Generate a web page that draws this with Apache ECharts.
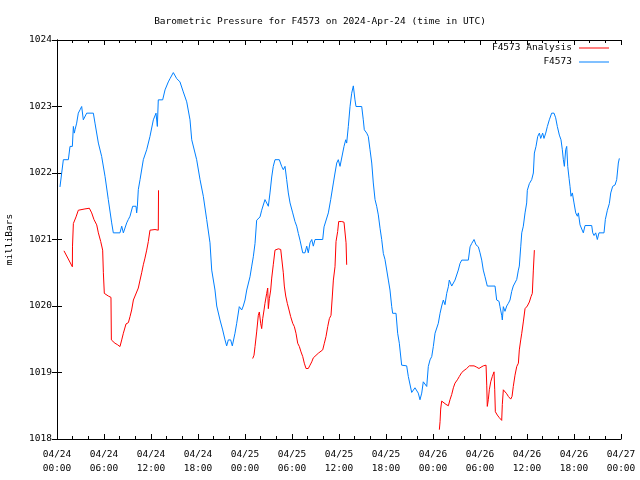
<!DOCTYPE html>
<html>
<head>
<meta charset="utf-8">
<script src="https://cdn.jsdelivr.net/npm/echarts@6/dist/echarts.min.js"></script>
<style>html,body{margin:0;padding:0;background:#fff}#c{width:640px;height:480px}</style>
</head>
<body>
<div id="c"></div>
<script>
// hours since 04/24 00:00 UTC
var tickLabels = ['04/24\n00:00','04/24\n06:00','04/24\n12:00','04/24\n18:00','04/25\n00:00','04/25\n06:00','04/25\n12:00','04/25\n18:00','04/26\n00:00','04/26\n06:00','04/26\n12:00','04/26\n18:00','04/27\n00:00'];

var pressureHours = [0.38,0.6,0.81,1.45,1.66,1.96,2.09,2.21,2.3,2.51,2.72,2.94,3.15,3.36,3.57,3.79,4.64,4.85,5.28,5.7,6.13,6.55,6.98,7.19,8.04,8.26,8.47,8.9,9.1,9.32,9.66,10.09,10.17,10.26,10.38,10.6,11.02,11.45,11.87,12.3,12.64,12.81,12.93,13.49,13.79,14.21,14.43,14.85,15.28,15.7,16.12,16.56,16.98,17.2,17.4,17.83,18.26,18.68,19.11,19.53,19.75,20.17,20.39,20.81,21.15,21.45,21.66,21.87,22.17,22.38,22.72,22.94,23.27,23.58,23.78,24.0,24.22,24.64,24.86,25.06,25.28,25.49,25.92,26.13,26.55,26.98,27.19,27.41,27.61,27.83,28.38,28.68,28.89,29.11,29.32,29.53,29.75,30.09,30.38,30.6,30.81,31.02,31.37,31.66,31.88,32.08,32.3,32.52,32.72,32.94,33.92,34.09,34.34,34.64,34.94,35.28,35.49,35.71,35.91,36.13,36.35,36.64,36.86,36.98,37.19,37.41,37.62,37.83,38.04,38.17,38.9,39.1,39.23,39.54,39.74,39.96,40.18,40.38,40.6,40.81,41.02,41.24,41.45,41.66,41.87,42.09,42.3,42.51,42.73,42.85,43.28,43.49,43.7,44.0,44.64,44.85,45.28,45.7,46.12,46.34,46.56,46.76,46.98,47.2,47.4,47.62,47.84,48.04,48.26,48.47,48.68,48.9,49.11,49.32,49.53,49.75,49.96,50.08,50.39,50.6,50.81,51.03,51.23,51.45,51.67,52.51,52.73,52.94,53.24,53.49,53.79,54.0,54.22,54.42,54.64,54.93,55.92,56.13,56.43,56.55,56.77,56.85,56.98,57.19,57.41,57.62,57.83,58.05,58.25,58.47,58.69,58.9,59.02,59.2,59.33,59.53,59.75,59.96,60.04,60.3,60.6,60.81,60.94,61.15,61.37,61.58,61.75,62.0,62.17,62.39,62.6,62.85,63.15,63.45,63.66,63.87,64.13,64.34,64.51,64.64,64.77,64.94,65.07,65.2,65.37,65.49,65.62,65.79,66.0,66.22,66.43,66.56,66.77,66.98,67.19,67.41,68.26,68.39,68.56,68.77,68.98,69.19,69.83,70.0,70.26,70.51,70.69,70.94,71.24,71.45,71.66,71.79];
var pressureValues = [1021.79,1022.0,1022.2,1022.2,1022.4,1022.4,1022.7,1022.6,1022.65,1022.75,1022.9,1022.95,1023.0,1022.8,1022.8,1022.9,1022.9,1022.75,1022.45,1022.25,1021.95,1021.6,1021.25,1021.1,1021.1,1021.2,1021.1,1021.25,1021.3,1021.35,1021.5,1021.5,1021.4,1021.5,1021.75,1021.9,1022.2,1022.35,1022.55,1022.8,1022.9,1022.7,1023.1,1023.1,1023.25,1023.37,1023.42,1023.51,1023.42,1023.37,1023.22,1023.07,1022.8,1022.5,1022.5,1022.2,1021.9,1021.65,1021.3,1020.95,1020.54,1020.24,1020.0,1019.79,1019.64,1019.49,1019.4,1019.49,1019.49,1019.4,1019.59,1019.74,1019.99,1019.94,1020.0,1020.09,1020.24,1020.44,1020.6,1020.74,1020.94,1021.29,1021.34,1021.44,1021.6,1021.5,1021.7,1021.94,1022.1,1022.2,1022.2,1022.1,1022.05,1022.1,1021.9,1021.7,1021.55,1021.4,1021.27,1021.2,1021.09,1020.99,1020.8,1020.8,1020.9,1020.8,1020.95,1021.0,1020.9,1021.0,1021.0,1021.19,1021.2,1021.4,1021.6,1021.85,1022.0,1022.15,1022.2,1022.1,1022.1,1022.4,1022.5,1022.45,1022.7,1023.0,1023.2,1023.31,1023.1,1023.0,1023.0,1022.8,1022.65,1022.6,1022.55,1022.35,1022.15,1021.85,1021.6,1021.5,1021.37,1021.17,1021.0,1020.79,1020.7,1020.7,1020.39,1020.24,1019.99,1019.89,1019.89,1019.59,1019.44,1019.11,1019.1,1018.94,1018.7,1018.77,1018.69,1018.59,1018.69,1018.86,1018.89,1018.79,1019.09,1019.19,1019.24,1019.39,1019.59,1019.6,1019.74,1019.89,1020.0,1020.09,1020.02,1020.19,1020.29,1020.39,1020.3,1020.3,1020.39,1020.4,1020.54,1020.64,1020.69,1020.69,1020.89,1020.94,1021.0,1020.92,1020.89,1020.8,1020.69,1020.54,1020.44,1020.3,1020.3,1020.09,1020.07,1019.99,1019.86,1019.79,1019.99,1019.92,1020.0,1020.04,1020.09,1020.22,1020.3,1020.32,1020.4,1020.54,1020.6,1020.89,1021.1,1021.2,1021.4,1021.55,1021.74,1021.84,1021.9,1022.0,1022.3,1022.4,1022.55,1022.6,1022.52,1022.6,1022.52,1022.6,1022.7,1022.8,1022.9,1022.9,1022.83,1022.7,1022.57,1022.5,1022.35,1022.2,1022.1,1022.35,1022.4,1022.1,1021.92,1021.8,1021.65,1021.7,1021.55,1021.4,1021.35,1021.4,1021.22,1021.2,1021.1,1021.21,1021.21,1021.1,1021.06,1021.1,1021.0,1021.1,1021.1,1021.3,1021.44,1021.54,1021.7,1021.8,1021.82,1021.9,1022.15,1022.22];

// null marks a gap in the analysis record
var analysisHours = [0.89,1.96,1.98,2.09,2.43,2.72,2.94,3.57,3.79,4.13,4.43,4.72,5.07,5.28,5.58,5.83,5.92,6.04,6.55,6.89,6.94,7.4,7.7,8.04,8.26,8.47,8.81,9.11,9.32,9.53,9.75,9.96,10.17,10.38,10.6,10.81,11.02,11.23,11.45,11.66,11.87,12.51,12.93,12.96,
  18.0,
  24.98,25.15,25.28,25.49,25.7,25.83,26.0,26.13,26.26,26.43,26.55,26.77,26.9,26.98,27.11,27.28,27.41,27.61,27.83,27.96,28.26,28.56,28.77,28.89,29.02,29.2,29.4,29.62,29.83,30.09,30.3,30.51,30.73,30.94,31.15,31.37,31.57,31.79,32.08,32.3,32.52,32.72,32.94,33.36,33.92,34.13,34.34,34.56,34.77,34.98,35.15,35.28,35.49,35.62,35.83,35.96,36.35,36.64,36.86,36.9,36.98,
  42.0,
  48.81,48.9,48.98,49.11,49.32,49.66,49.96,50.17,50.39,50.6,50.81,51.11,51.36,51.67,51.96,52.3,52.64,53.24,53.58,53.87,54.13,54.42,54.77,54.86,54.93,55.06,55.19,55.37,55.57,55.7,55.79,55.88,55.96,56.21,56.47,56.77,56.85,56.98,57.19,57.41,57.62,57.92,58.09,58.25,58.47,58.69,58.9,59.02,59.2,59.33,59.53,59.75,60.04,60.3,60.51,60.68,60.81,60.94];
var analysisValues = [1020.83,1020.59,1020.9,1021.24,1021.34,1021.44,1021.46,1021.46,1021.47,1021.47,1021.4,1021.3,1021.22,1021.1,1020.97,1020.84,1020.5,1020.19,1020.15,1020.13,1019.49,1019.44,1019.42,1019.39,1019.49,1019.59,1019.73,1019.75,1019.84,1019.94,1020.09,1020.15,1020.16,1020.27,1020.39,1020.5,1020.62,1020.72,1020.84,1020.97,1021.14,1021.15,1021.14,1021.74,
  null,
  1019.21,1019.26,1019.39,1019.61,1019.86,1019.91,1019.74,1019.66,1019.81,1019.94,1020.04,1020.19,1020.27,1019.96,1020.11,1020.24,1020.42,1020.62,1020.84,1020.87,1020.86,1020.85,1020.82,1020.5,1020.3,1020.15,1020.04,1019.94,1019.84,1019.74,1019.69,1019.59,1019.44,1019.39,1019.31,1019.24,1019.14,1019.06,1019.06,1019.11,1019.16,1019.22,1019.24,1019.29,1019.34,1019.44,1019.54,1019.69,1019.81,1019.86,1020.15,1020.39,1020.59,1020.97,1021.12,1021.27,1021.27,1021.26,1021.25,1020.95,1020.62,
  null,
  1018.14,1018.26,1018.45,1018.57,1018.55,1018.52,1018.5,1018.59,1018.67,1018.77,1018.84,1018.89,1018.94,1019.0,1019.03,1019.06,1019.1,1019.1,1019.08,1019.06,1019.08,1019.1,1019.11,1018.81,1018.49,1018.59,1018.74,1018.86,1018.94,1018.96,1019.01,1018.74,1018.41,1018.36,1018.32,1018.28,1018.52,1018.74,1018.72,1018.68,1018.64,1018.6,1018.64,1018.79,1018.96,1019.09,1019.14,1019.34,1019.49,1019.59,1019.76,1019.96,1020.0,1020.06,1020.14,1020.19,1020.54,1020.84];

function pairs(hs, vs) {
  return hs.map(function (h, i) { return [h, vs[i] === null ? '-' : vs[i]]; });
}

var FONT = 'DejaVu Sans Mono';
var LINE_ICON = 'path://M0,0H30V1H0Z';
var axisCommon = {
  axisLine: { show: true, lineStyle: { color: '#000', width: 1 } },
  splitLine: { show: false },
  minorSplitLine: { show: false }
};

var chart = echarts.init(document.getElementById('c'), null, { renderer: 'canvas' });
chart.setOption({
  animation: false,
  backgroundColor: '#fff',
  title: {
    text: 'Barometric Pressure for F4573 on 2024-Apr-24 (time in UTC)',
    left: 'center', top: 12,
    textStyle: { fontFamily: FONT, fontSize: 9.5, fontWeight: 'normal', color: '#000' }
  },
  legend: {
    orient: 'vertical', right: 31, top: 43, align: 'right', padding: 0,
    itemWidth: 30, itemHeight: 10, itemGap: 4,
    textStyle: { fontFamily: FONT, fontSize: 9.5, color: '#000', padding: [0, 2, 0, 0] },
    data: [
      { name: 'F4573 Analysis', icon: LINE_ICON },
      { name: 'F4573', icon: LINE_ICON }
    ]
  },
  grid: { left: 57, right: 19, top: 40, bottom: 41, containLabel: false, outerBoundsMode: 'none' },
  xAxis: [
    Object.assign({}, axisCommon, {
      type: 'value', min: 0, max: 72, interval: 6, position: 'bottom',
      axisTick: { show: true, inside: true, length: 5, lineStyle: { color: '#000' } },
      minorTick: { show: true, splitNumber: 3, length: 3, lineStyle: { color: '#000' } },
      axisLabel: {
        fontFamily: FONT, fontSize: 9.5, color: '#000', margin: 9, lineHeight: 14,
        formatter: function (v) { return tickLabels[Math.round(v / 6)]; }
      }
    }),
    Object.assign({}, axisCommon, {
      type: 'value', min: 0, max: 72, interval: 6, position: 'top',
      axisTick: { show: true, inside: true, length: 5, lineStyle: { color: '#000' } },
      minorTick: { show: true, splitNumber: 3, length: 3, lineStyle: { color: '#000' } },
      axisLabel: { show: false }
    })
  ],
  yAxis: [
    Object.assign({}, axisCommon, {
      type: 'value', min: 1018, max: 1024, interval: 1, position: 'left',
      name: 'milliBars', nameLocation: 'middle', nameRotate: 90, nameGap: 42,
      nameTextStyle: { fontFamily: FONT, fontSize: 9.5, color: '#000' },
      axisTick: { show: true, inside: true, length: 5, lineStyle: { color: '#000' } },
      axisLabel: { fontFamily: FONT, fontSize: 9.5, color: '#000', margin: 5,
        formatter: function (v) { return String(v); } }
    }),
    Object.assign({}, axisCommon, {
      type: 'value', min: 1018, max: 1024, interval: 1, position: 'right',
      axisTick: { show: true, inside: true, length: 5, lineStyle: { color: '#000' } },
      axisLabel: { show: false }
    })
  ],
  series: [
    {
      name: 'F4573 Analysis', type: 'line', symbol: 'none', connectNulls: false,
      lineStyle: { color: '#ff0000', width: 1 }, itemStyle: { color: '#ff0000' },
      data: pairs(analysisHours, analysisValues), z: 3
    },
    {
      name: 'F4573', type: 'line', symbol: 'none',
      lineStyle: { color: '#0080ff', width: 1 }, itemStyle: { color: '#0080ff' },
      data: pairs(pressureHours, pressureValues), z: 2
    }
  ]
});
</script>
</body>
</html>
